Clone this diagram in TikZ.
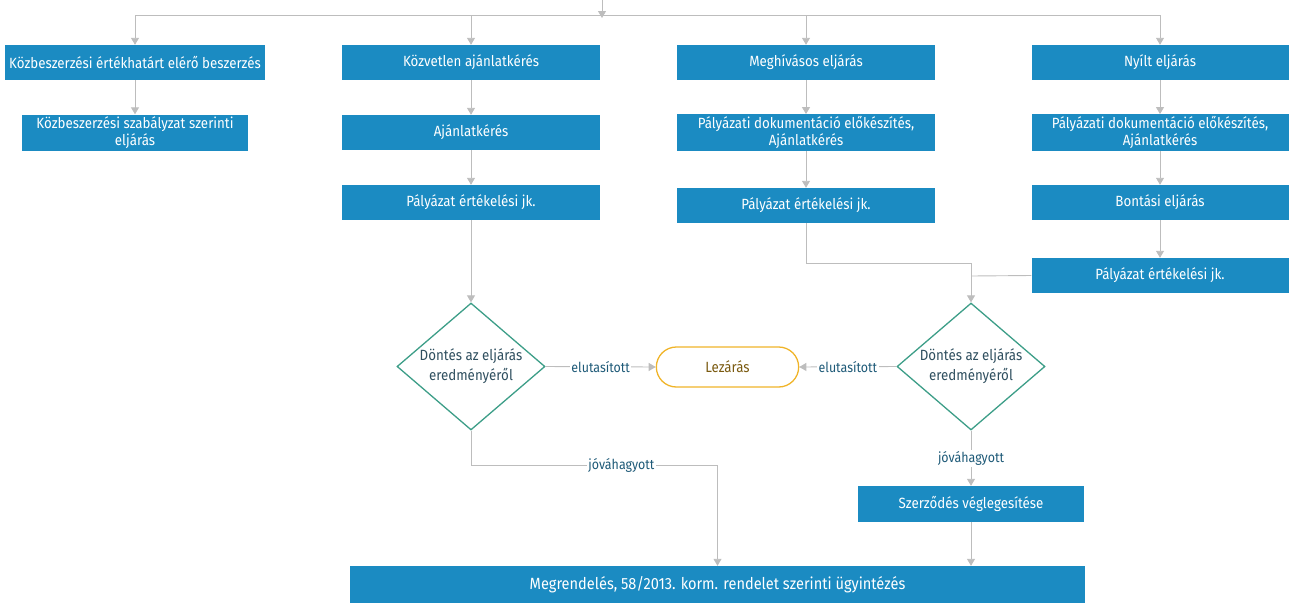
\documentclass[tikz,border=0pt]{standalone}
\usepackage{fontspec}
\setmainfont{Fira Sans}[FakeStretch=0.9]
\usetikzlibrary{arrows.meta,shapes.geometric,shapes.misc}
\definecolor{boxblue}{HTML}{1B8BC2}
\definecolor{lngray}{HTML}{BDBDBD}
\definecolor{diateal}{HTML}{3D9E88}
\definecolor{diatext}{HTML}{2F4F5F}
\definecolor{lbltext}{HTML}{1E5A78}
\definecolor{endyel}{HTML}{F0B429}
\definecolor{endtext}{HTML}{7A5A10}
\tikzset{
  x=1pt,y=-1pt,
  bluebox/.style={rectangle,fill=boxblue,text=white,minimum height=35pt,inner sep=2pt,align=center,font=\fontsize{14.8}{17}\selectfont},
  decide/.style={diamond,aspect=1.17,draw=diateal,line width=1.3pt,fill=white,text=diatext,minimum width=148pt,minimum height=127pt,inner sep=0pt,align=center,font=\fontsize{14.8}{20}\selectfont},
  endbox/.style={rounded rectangle,draw=endyel,line width=1.3pt,text=endtext,minimum width=149pt,minimum height=40pt,font=\fontsize{14.8}{17}\selectfont},
  conn/.style={draw=lngray,line width=0.9pt},
  arr/.style={conn,-{Triangle[width=8pt,length=7pt]}},
  lbl/.style={fill=white,text=lbltext,inner sep=1.5pt,font=\fontsize{13.8}{16}\selectfont},
}
\begin{document}
\begin{tikzpicture}
\useasboundingbox (0,0) rectangle (1297,603);
% nodes
\node[bluebox,minimum width=260pt] (a1) at (135,62.5) {Közbeszerzési értékhatárt elérő beszerzés};
\node[bluebox,minimum width=226pt] (a2) at (135,132.5) {Közbeszerzési szabályzat szerinti\\eljárás};
\node[bluebox,minimum width=258pt] (b1) at (471,62.5) {Közvetlen ajánlatkérés};
\node[bluebox,minimum width=258pt] (b2) at (471,132.5) {Ajánlatkérés};
\node[bluebox,minimum width=258pt] (b3) at (471,202.5) {Pályázat értékelési jk.};
\node[bluebox,minimum width=258pt] (c1) at (806,62.5) {Meghívásos eljárás};
\node[bluebox,minimum width=258pt] (c2) at (806,132.5) {Pályázati dokumentáció előkészítés,\\Ajánlatkérés};
\node[bluebox,minimum width=258pt] (c3) at (806,205.5) {Pályázat értékelési jk.};
\node[bluebox,minimum width=257pt] (d1) at (1160,62.5) {Nyílt eljárás};
\node[bluebox,minimum width=257pt] (d2) at (1160,132.5) {Pályázati dokumentáció előkészítés,\\Ajánlatkérés};
\node[bluebox,minimum width=257pt] (d3) at (1160,202.5) {Bontási eljárás};
\node[bluebox,minimum width=257pt] (d4) at (1160,275.5) {Pályázat értékelési jk.};
\node[decide] (q1) at (471,366.5) {Döntés az eljárás\\eredményéről};
\node[decide] (q2) at (971,366.5) {Döntés az eljárás\\eredményéről};
\node[endbox] (end) at (727.5,367) {Lezárás};
\node[bluebox,minimum width=226pt,minimum height=36pt] (sz) at (971,504) {Szerződés véglegesítése};
\node[bluebox,minimum width=735pt,minimum height=37pt,font=\fontsize{16.2}{18}\selectfont] (fin) at (717.5,584.5) {Megrendelés, 58/2013. korm. rendelet szerinti ügyintézés};
% coordinates
\coordinate (top) at (602,0);
\coordinate (bus) at (602,15);
\coordinate (busL) at (135,15);
\coordinate (busR) at (1160,15);
\coordinate (jc) at (971,263);
\coordinate (jd) at (971,276);
\coordinate (jq) at (471,465);
% connectors
\draw[conn] (busL) -- (busR);
\draw[arr] (top) -- ([yshift=-3pt]bus);
\draw[arr] (a1.north |- busL) -- (a1.north);
\draw[arr] (b1.north |- busL) -- (b1.north);
\draw[arr] (c1.north |- busL) -- (c1.north);
\draw[arr] (d1.north |- busL) -- (d1.north);
\draw[arr] (a1.south) -- (a2.north);
\draw[arr] (b1) -- (b2);
\draw[arr] (b2) -- (b3);
\draw[arr] (c1) -- (c2);
\draw[arr] (c2) -- (c3);
\draw[arr] (d1) -- (d2);
\draw[arr] (d2) -- (d3);
\draw[arr] (d3) -- (d4);
\draw[arr] (b3) -- (q1);
\draw[arr] (c3.south) |- (jc) -- (q2.north);
\draw[conn] (d4.west) -- (jd);
\draw[arr] (q1.east) -- node[lbl]{elutasított} (end.west);
\draw[arr] (q2.west) -- node[lbl]{elutasított} (end.east);
\draw[arr] (q1.south) |- (fin.north |- jq) node[lbl,pos=0.805]{jóváhagyott} -- (fin.north);
\draw[arr] (q2.south) -- node[lbl]{jóváhagyott} (sz.north);
\draw[arr] (sz.south) -- (sz.south |- fin.north);
\end{tikzpicture}
\end{document}
